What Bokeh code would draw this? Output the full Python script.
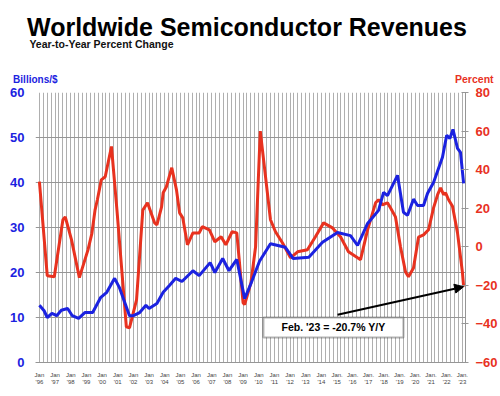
from bokeh.plotting import figure
from bokeh.models import Range1d, LinearAxis, FixedTicker, Label, Arrow, NormalHead, BoxAnnotation
from bokeh.embed import file_html
from bokeh.resources import INLINE

# ---- data ----
rev_year = [1996.0, 1996.3, 1996.5, 1996.8, 1997.1, 1997.4, 1997.8, 1998.1, 1998.5, 1998.9,
            1999.4, 1999.9, 2000.3, 2000.8, 2001.1, 2001.75, 2002.0, 2002.4, 2002.8, 2003.0,
            2003.5, 2003.9, 2004.3, 2004.7, 2005.1, 2005.8, 2006.2, 2006.9, 2007.2, 2007.7,
            2008.1, 2008.6, 2009.1, 2009.5, 2010.05, 2010.75, 2011.7, 2012.2, 2013.2, 2014.07,
            2015.03, 2015.86, 2016.31, 2016.95, 2017.65, 2017.97, 2018.22, 2018.86, 2019.24, 2019.5,
            2019.88, 2020.14, 2020.52, 2020.78, 2021.16, 2021.73, 2022.0, 2022.2, 2022.4, 2022.69,
            2022.88, 2023.08]
rev_billions = [12.7, 11.5, 10.0, 10.9, 10.4, 11.6, 12.0, 10.4, 9.8, 11.1,
                11.1, 14.4, 15.6, 18.7, 16.7, 10.4, 10.4, 11.1, 12.7, 12.0,
                13.1, 15.6, 17.1, 18.7, 18.0, 20.4, 19.3, 22.2, 20.0, 23.1,
                20.4, 22.9, 14.2, 17.5, 22.5, 26.4, 25.6, 23.1, 23.4, 26.7,
                28.9, 28.2, 26.0, 30.9, 33.8, 37.8, 37.1, 41.6, 33.4, 32.7,
                36.3, 34.9, 34.9, 37.6, 40.0, 45.6, 50.5, 49.8, 51.8, 47.6,
                46.7, 39.8]

yoy_year = [1996.0, 1996.5, 1996.95, 1997.5, 1997.65, 1998.05, 1998.55, 1999.1, 1999.35, 1999.55,
            1999.7, 1999.95, 2000.2, 2000.6, 2000.95, 2001.55, 2001.75, 2002.2, 2002.6, 2002.9,
            2003.35, 2003.5, 2003.8, 2003.9, 2004.1, 2004.45, 2004.75, 2004.95, 2005.15, 2005.45,
            2005.8, 2006.2, 2006.4, 2006.85, 2007.2, 2007.6, 2007.9, 2008.3, 2008.6, 2009.0,
            2009.1, 2009.5, 2009.8, 2009.95, 2010.1, 2010.75, 2011.07, 2011.52, 2012.03, 2012.48,
            2013.11, 2013.62, 2014.14, 2014.71, 2015.22, 2015.73, 2016.31, 2016.5, 2016.95, 2017.46,
            2017.65, 2017.9, 2018.22, 2018.41, 2018.73, 2019.05, 2019.37, 2019.56, 2019.88, 2020.2,
            2020.52, 2020.84, 2021.16, 2021.42, 2021.61, 2021.8, 2021.93, 2022.12, 2022.37, 2022.69,
            2023.0, 2023.08]
yoy_pct = [33.8, -15.0, -15.5, 14.0, 15.5, 3.6, -16.0, -1.6, 7.0, 19.0,
           24.4, 34.7, 36.3, 52.0, 19.0, -41.5, -42.0, -27.5, 19.0, 22.8,
           12.4, 11.4, 20.7, 28.0, 31.0, 41.0, 29.5, 17.6, 15.0, 1.0,
           7.2, 7.2, 10.4, 8.8, 2.6, 5.2, 1.0, 7.8, 7.2, -29.0,
           -30.0, -18.7, 0.0, 30.0, 60.0, 14.0, 7.8, 2.0, -5.7, -2.6,
           -1.5, 5.2, 12.4, 9.8, 5.2, -2.6, -5.7, -6.7, 8.8, 22.8,
           24.4, 21.8, 22.8, 20.2, 15.5, 0.0, -13.0, -15.5, -11.0, 5.0,
           6.2, 8.8, 20.2, 27.0, 30.6, 27.0, 28.0, 24.4, 21.0, 7.2,
           -13.0, -20.7]

tick_years = list(range(1996, 2024))
tick_labels = [("Jan." if y >= 2015 else "Jan") + "\n'" + str(y)[2:] for y in tick_years]
left_ticks = [0, 10, 20, 30, 40, 50, 60]
right_ticks = [-60, -40, -20, 0, 20, 40, 60, 80]
quarters = [y + q / 4 for y in range(1995, 2024) for q in range(4)]

title_text = "Worldwide Semiconductor Revenues"
subtitle_text = "Year-to-Year Percent Change"
left_unit = "Billions/$"
right_unit = "Percent"
note_text = "Feb. '23 = -20.7% Y/Y"

BLUE = "#1b22e0"
RED = "#e8321f"
FONT = "Liberation Sans"

p = figure(width=500, height=396, x_range=Range1d(1995.75, 2023.2), y_range=Range1d(0, 60),
           output_backend="svg", toolbar_location=None,
           min_border_left=35, min_border_right=34, min_border_top=92, min_border_bottom=34)
p.extra_y_ranges = {"pct": Range1d(-60, 80)}
p.outline_line_color = None

p.xgrid.ticker = FixedTicker(ticks=quarters)
p.xgrid.grid_line_color = "#afafaf"
p.xgrid.grid_line_width = 1
p.ygrid.ticker = FixedTicker(ticks=left_ticks)
p.ygrid.grid_line_color = "#969696"
p.ygrid.grid_line_width = 1

ya = p.yaxis[0]
ya.ticker = FixedTicker(ticks=left_ticks)
ya.axis_line_color = None
ya.major_tick_line_color = None
ya.minor_tick_line_color = None
ya.major_label_text_color = BLUE
ya.major_label_text_font = FONT
ya.major_label_text_font_style = "bold"
ya.major_label_text_font_size = "13px"
ya.major_label_standoff = 5

ra = LinearAxis(y_range_name="pct", ticker=FixedTicker(ticks=right_ticks))
ra.axis_line_color = "#969696"
ra.major_tick_line_color = "#969696"
ra.major_tick_in = 4
ra.major_tick_out = 3
ra.minor_tick_line_color = None
ra.major_label_text_color = RED
ra.major_label_text_font = FONT
ra.major_label_text_font_style = "bold"
ra.major_label_text_font_size = "13px"
ra.major_label_standoff = 7
p.add_layout(ra, "right")

xa = p.xaxis[0]
xa.ticker = FixedTicker(ticks=tick_years)
xa.major_label_overrides = {y: lab for y, lab in zip(tick_years, tick_labels)}
xa.axis_line_color = "#969696"
xa.major_tick_line_color = None
xa.minor_tick_line_color = None
xa.major_label_text_font = FONT
xa.major_label_text_font_size = "6px"
xa.major_label_text_color = "#444444"
xa.major_label_standoff = 3

p.line(yoy_year, yoy_pct, y_range_name="pct", line_color=RED, line_width=3)
p.line(rev_year, rev_billions, line_color=BLUE, line_width=3)

box = BoxAnnotation(left=2010.3, right=2019.24, top=10.0, bottom=5.56,
                    fill_color="white", fill_alpha=1.0, line_color="black", line_width=2)
p.add_layout(box)
p.add_layout(Label(x=2014.77, y=7.8, text=note_text, text_align="center",
                   text_baseline="middle", text_font=FONT, text_font_style="bold",
                   text_font_size="10.5px", text_color="black"))
p.add_layout(Arrow(end=NormalHead(size=9, fill_color="black", line_color="black"),
                   x_start=2015.03, y_start=-35.2, x_end=yoy_year[-1], y_end=yoy_pct[-1],
                   y_range_name="pct", line_color="black", line_width=2))

# header texts placed in the top side panel (not clipped to the frame)
p.add_layout(Label(x=2009.25, y=74.5, text=title_text, text_align="center",
                   text_baseline="alphabetic", text_font=FONT, text_font_style="bold",
                   text_font_size="25px", text_color="black"), "above")
p.add_layout(Label(x=1995.36, y=70.7, text=subtitle_text, text_align="left",
                   text_baseline="alphabetic", text_font=FONT, text_font_style="bold",
                   text_font_size="10.5px", text_color="#111111"), "above")
p.add_layout(Label(x=1994.32, y=62.9, text=left_unit, text_align="left",
                   text_baseline="alphabetic", text_font=FONT, text_font_style="bold",
                   text_font_size="10px", text_color=BLUE), "above")
p.add_layout(Label(x=2024.99, y=62.9, text=right_unit, text_align="right",
                   text_baseline="alphabetic", text_font=FONT, text_font_style="bold",
                   text_font_size="10.5px", text_color=RED), "above")

open("out.html", "w").write(file_html(p, INLINE))
